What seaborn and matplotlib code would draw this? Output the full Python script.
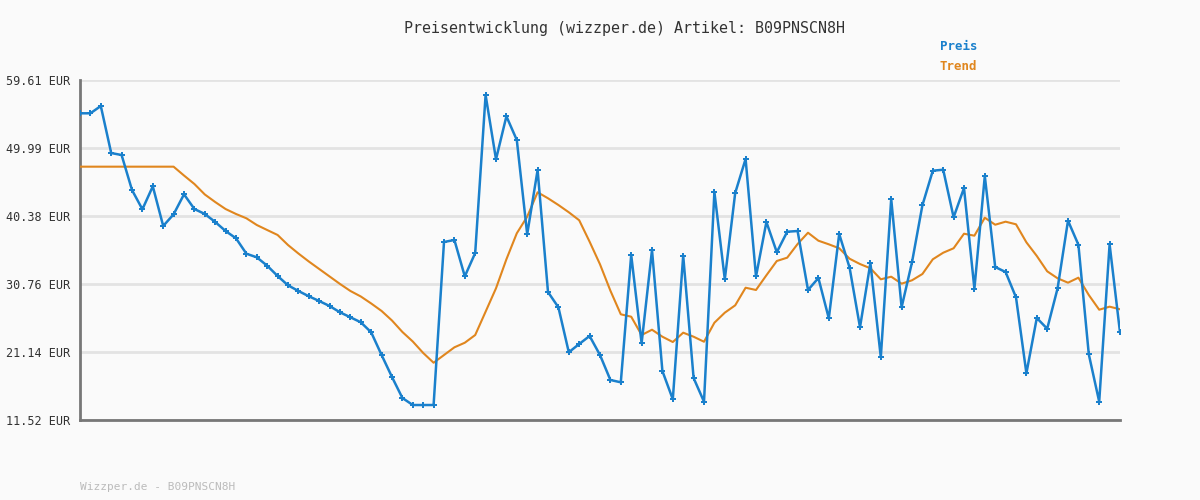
import seaborn as sns
import matplotlib.pyplot as plt
import numpy as np
import pandas as pd

preis = [54.90, 54.90, 55.93, 49.28, 49.00, 44.05, 41.32, 44.57, 38.96, 40.61,
         43.44, 41.36, 40.66, 39.53, 38.25, 37.22, 35.04, 34.53, 33.34, 31.89,
         30.57, 29.77, 29.02, 28.35, 27.64, 26.75, 26.05, 25.34, 23.92, 20.71,
         17.60, 14.63, 13.64, 13.64, 13.64, 36.70, 36.98, 31.84, 35.14, 57.49,
         48.39, 54.48, 51.12, 37.79, 46.88, 29.62, 27.46, 21.10, 22.27, 23.40,
         20.71, 17.18, 16.85, 34.86, 22.37, 35.56, 18.45, 14.45, 34.76, 17.46,
         14.11, 43.77, 31.42, 43.63, 48.44, 31.82, 39.53, 35.25, 38.15, 38.25,
         29.91, 31.60, 25.90, 37.83, 33.06, 24.63, 33.73, 20.39, 42.78, 27.46,
         33.83, 41.89, 46.78, 46.92, 40.19, 44.33, 30.09, 46.03, 33.16, 32.45,
         28.87, 18.13, 25.95, 24.43, 30.15, 39.71, 36.31, 20.81, 14.11, 36.37,
         23.92]

trend = [47.35, 47.35, 47.35, 47.35, 47.35, 47.35, 47.35, 47.35, 47.35, 47.35,
         46.10, 44.90, 43.42, 42.35, 41.36, 40.66, 40.05, 39.10, 38.39, 37.69,
         36.27, 35.07, 33.94, 32.88, 31.82, 30.76, 29.77, 28.99, 28.00, 26.94,
         25.59, 23.97, 22.62, 21.00, 19.62, 20.71, 21.80, 22.45, 23.54, 26.84,
         30.15, 34.25, 37.93, 40.28, 43.73, 42.88, 41.93, 40.90, 39.77, 36.74,
         33.54, 29.81, 26.47, 26.13, 23.54, 24.29, 23.30, 22.55, 23.87, 23.30,
         22.59, 25.28, 26.70, 27.74, 30.23, 29.91, 31.99, 34.01, 34.48, 36.41,
         38.01, 36.88, 36.37, 35.81, 34.33, 33.58, 32.98, 31.42, 31.79, 30.80,
         31.28, 32.17, 34.25, 35.18, 35.81, 37.87, 37.59, 40.13, 39.14, 39.57,
         39.20, 36.65, 34.72, 32.55, 31.56, 30.94, 31.65, 29.20, 27.12, 27.55,
         27.18]

y_ticks = [11.52, 21.14, 30.76, 40.38, 49.99, 59.61]
artikel = 'B09PNSCN8H'

blue = '#1a80cc'
orange = '#e0861e'
bg = '#fafafa'

df = pd.DataFrame({'idx': np.arange(len(preis)), 'Preis': preis, 'Trend': trend})

sns.set_style('white')
plt.rcParams['font.family'] = ['DejaVu Sans Mono']

fig = plt.figure(figsize=(12, 5), dpi=100, facecolor=bg)
ax = fig.add_axes([80 / 1200, 80 / 500, 1040 / 1200, 340 / 500])
ax.set_facecolor(bg)

sns.lineplot(data=df, x='idx', y='Trend', color=orange, linewidth=1.5, ax=ax, zorder=3)
sns.lineplot(data=df, x='idx', y='Preis', color=blue, linewidth=1.8, marker='P',
             markersize=4.5, markeredgewidth=0, ax=ax, zorder=4)

ax.set_xlim(0, len(preis) - 1)
ax.set_ylim(y_ticks[0], y_ticks[-1])
ax.set_yticks(y_ticks)
ax.set_yticklabels([f'{v:.2f} EUR' for v in y_ticks], fontsize=8.5, color='#333333')
ax.set_xticks([])
ax.set_xlabel('')
ax.set_ylabel('')
ax.grid(axis='y', color='#e3e3e3', linewidth=2, zorder=0)
ax.tick_params(axis='y', length=0, pad=7)
for s in ['top', 'right']:
    ax.spines[s].set_visible(False)
for s in ['left', 'bottom']:
    ax.spines[s].set_color('#777777')
    ax.spines[s].set_linewidth(2)

fig.text(624 / 1200, 1 - 28 / 500, f'Preisentwicklung (wizzper.de) Artikel: {artikel}',
         ha='center', va='center', fontsize=10.8, color='#333333')
fig.text(940 / 1200, 1 - 47 / 500, 'Preis', ha='left', va='center', fontsize=9,
         color=blue, fontweight='bold')
fig.text(940 / 1200, 1 - 67 / 500, 'Trend', ha='left', va='center', fontsize=9,
         color=orange, fontweight='bold')
fig.text(80 / 1200, 1 - 487 / 500, f'Wizzper.de - {artikel}', ha='left', va='center',
         fontsize=8, color='#bbbbbb')

fig.savefig('out.png', dpi=100, facecolor=bg)
